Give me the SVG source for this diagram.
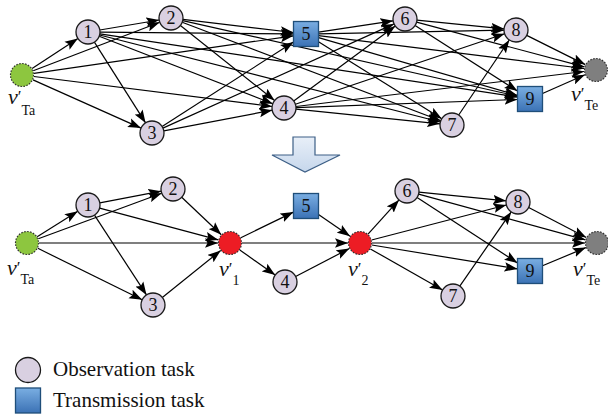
<svg xmlns="http://www.w3.org/2000/svg" width="608" height="417" viewBox="0 0 608 417">
  <style>
    .e { stroke:#000; stroke-width:1.2; fill:none; marker-end:url(#ah); }
    .obs { fill:#d9d0e1; stroke:#1a1a1a; stroke-width:1.3; }
    .trn { fill:url(#blue); stroke:#1f4e79; stroke-width:1.3; }
    .num { font-family:"Liberation Serif",serif; font-size:18px; text-anchor:middle; fill:#111; }
    .vs { fill:#8dc63f; stroke:#333; stroke-width:1.2; stroke-dasharray:1.5 1.5; }
    .vm { fill:#ed1c24; stroke:#333; stroke-width:1.2; stroke-dasharray:1.5 1.5; }
    .ve { fill:#7f7f7f; stroke:#333; stroke-width:1.2; stroke-dasharray:1.5 1.5; }
    .lab { font-family:"Liberation Serif",serif; font-size:22px; font-style:italic; fill:#111; }
    .pr { font-size:17px; font-style:normal; }
    .sub { font-size:14px; font-style:normal; }
    .leg { font-family:"Liberation Serif",serif; font-size:21px; fill:#111; }
  </style>
  <defs>
    <linearGradient id="blue" x1="0" y1="0" x2="0" y2="1">
      <stop offset="0" stop-color="#7aaee2"/>
      <stop offset="1" stop-color="#3b72b5"/>
    </linearGradient>
    <linearGradient id="pale" x1="0" y1="0" x2="0" y2="1">
      <stop offset="0" stop-color="#e8eff8"/>
      <stop offset="1" stop-color="#c6d7ec"/>
    </linearGradient>
    <marker id="ah" markerUnits="userSpaceOnUse" markerWidth="13" markerHeight="10" viewBox="0 0 13 10" refX="13" refY="5" orient="auto">
      <path d="M0,0.3 L13,5 L0,9.7 L2.5,5 z" fill="#000"/>
    </marker>
  </defs>

  <!-- upper network: connectors -->
  <g id="edges-top">
    <line class="e" x1="32.1" y1="68.4" x2="77.9" y2="38.6"/>
    <line class="e" x1="33.2" y1="70.7" x2="159.8" y2="22.3"/>
    <line class="e" x1="33.0" y1="79.9" x2="141.0" y2="128.1"/>
    <line class="e" x1="33.9" y1="76.5" x2="272.1" y2="106.5"/>
    <line class="e" x1="33.9" y1="73.3" x2="293.5" y2="35.8"/>
    <line class="e" x1="99.8" y1="30.0" x2="159.2" y2="20.0"/>
    <line class="e" x1="94.4" y1="42.1" x2="145.6" y2="122.9"/>
    <line class="e" x1="99.2" y1="36.3" x2="272.8" y2="103.7"/>
    <line class="e" x1="100" y1="32.1" x2="293.5" y2="33.9"/>
    <line class="e" x1="99.6" y1="35.0" x2="440.4" y2="122.0"/>
    <line class="e" x1="99.9" y1="33.8" x2="517.5" y2="97.1"/>
    <line class="e" x1="180.4" y1="25.5" x2="274.6" y2="100.5"/>
    <line class="e" x1="182.9" y1="19.4" x2="293.5" y2="32.5"/>
    <line class="e" x1="182.2" y1="22.3" x2="440.8" y2="120.7"/>
    <line class="e" x1="182.7" y1="20.6" x2="517.5" y2="96.2"/>
    <line class="e" x1="163.8" y1="130.8" x2="272.2" y2="110.2"/>
    <line class="e" x1="162.1" y1="126.5" x2="293.5" y2="42.0"/>
    <line class="e" x1="162.9" y1="128.1" x2="394.1" y2="23.9"/>
    <line class="e" x1="318.5" y1="32.1" x2="393.1" y2="20.8"/>
    <line class="e" x1="318.5" y1="41.8" x2="441.8" y2="118.7"/>
    <line class="e" x1="318.5" y1="33.8" x2="504" y2="30.2"/>
    <line class="e" x1="318.5" y1="37.6" x2="517.5" y2="95.4"/>
    <line class="e" x1="318.5" y1="35.6" x2="584.1" y2="68.5"/>
    <line class="e" x1="293.7" y1="100.9" x2="395.3" y2="26.1"/>
    <line class="e" x1="295.9" y1="109.2" x2="440.1" y2="123.8"/>
    <line class="e" x1="295.4" y1="104.2" x2="504.6" y2="33.8"/>
    <line class="e" x1="296" y1="107.6" x2="517.5" y2="99.5"/>
    <line class="e" x1="295.9" y1="106.5" x2="584.1" y2="71.5"/>
    <line class="e" x1="416.9" y1="20.2" x2="504.1" y2="28.8"/>
    <line class="e" x1="415.1" y1="25.5" x2="517.5" y2="91.0"/>
    <line class="e" x1="416.6" y1="22.1" x2="584.4" y2="66.9"/>
    <line class="e" x1="458.7" y1="115.0" x2="509.3" y2="40.0"/>
    <line class="e" x1="526.7" y1="35.4" x2="585.3" y2="64.6"/>
    <line class="e" x1="542.5" y1="93.5" x2="585" y2="74.8"/>
  </g>

  <!-- upper network: nodes -->
  <g id="t-src"><circle class="vs" cx="22" cy="75" r="11.5"/>
    <text class="lab" x="8" y="104">ν<tspan class="pr" dy="-2">′</tspan><tspan class="sub" dy="13">Ta</tspan></text></g>
  <g id="t-1"><circle class="obs" cx="88" cy="32" r="12"/><text class="num" x="88" y="38">1</text></g>
  <g id="t-2"><circle class="obs" cx="171" cy="18" r="12"/><text class="num" x="171" y="24">2</text></g>
  <g id="t-3"><circle class="obs" cx="152" cy="133" r="12"/><text class="num" x="152" y="139">3</text></g>
  <g id="t-4"><circle class="obs" cx="284" cy="108" r="12"/><text class="num" x="284" y="114">4</text></g>
  <g id="t-5"><rect class="trn" x="293.5" y="21.5" width="25" height="25"/><text class="num" x="306" y="40">5</text></g>
  <g id="t-6"><circle class="obs" cx="405" cy="19" r="12"/><text class="num" x="405" y="25">6</text></g>
  <g id="t-7"><circle class="obs" cx="452" cy="125" r="12"/><text class="num" x="452" y="131">7</text></g>
  <g id="t-8"><circle class="obs" cx="516" cy="30" r="12"/><text class="num" x="516" y="36">8</text></g>
  <g id="t-9"><rect class="trn" x="517.5" y="86.5" width="25" height="25"/><text class="num" x="530" y="105">9</text></g>
  <g id="t-sink"><circle class="ve" cx="596" cy="70" r="11.5"/>
    <text class="lab" x="571" y="101">ν<tspan class="pr" dy="-2">′</tspan><tspan class="sub" dy="11">Te</tspan></text></g>

  <!-- transformation arrow -->
  <g id="transform">
    <polygon points="293,137 315,137 315,155 340,155 305,172 272,155 293,155" fill="url(#pale)" stroke="#3d5f86" stroke-width="1.2" stroke-linejoin="miter"/>
  </g>

  <!-- lower network: connectors -->
  <g id="edges-bottom">
    <line class="e" x1="37.2" y1="236.7" x2="77.8" y2="211.3"/>
    <line class="e" x1="38.3" y1="238.8" x2="161.7" y2="193.2"/>
    <line class="e" x1="37.8" y1="248.3" x2="142.2" y2="299.7"/>
    <line class="e" x1="39" y1="243" x2="218" y2="243"/>
    <line class="e" x1="99.8" y1="202.8" x2="161.2" y2="191.2"/>
    <line class="e" x1="94.5" y1="215.1" x2="146.5" y2="294.9"/>
    <line class="e" x1="99.6" y1="208.1" x2="218.4" y2="239.9"/>
    <line class="e" x1="181.7" y1="197.3" x2="221.3" y2="234.7"/>
    <line class="e" x1="162.3" y1="297.5" x2="220.7" y2="250.5"/>
    <line class="e" x1="240.8" y1="237.7" x2="293.5" y2="212.1"/>
    <line class="e" x1="239.8" y1="249.9" x2="275.2" y2="275.1"/>
    <line class="e" x1="242" y1="243" x2="348" y2="243"/>
    <line class="e" x1="318.5" y1="214.6" x2="350.1" y2="236.2"/>
    <line class="e" x1="295.6" y1="276.5" x2="349.4" y2="248.5"/>
    <line class="e" x1="368.0" y1="234.1" x2="399.0" y2="199.9"/>
    <line class="e" x1="370.4" y1="248.9" x2="442.6" y2="290.1"/>
    <line class="e" x1="371.6" y1="240.0" x2="506.4" y2="205.0"/>
    <line class="e" x1="371.8" y1="245.0" x2="517.5" y2="268.9"/>
    <line class="e" x1="372" y1="243" x2="585" y2="243"/>
    <line class="e" x1="418.9" y1="192.2" x2="506.1" y2="200.8"/>
    <line class="e" x1="417.1" y1="197.5" x2="517.5" y2="262.9"/>
    <line class="e" x1="418.6" y1="194.2" x2="585.4" y2="239.8"/>
    <line class="e" x1="459.8" y1="286.1" x2="511.2" y2="211.9"/>
    <line class="e" x1="528.7" y1="207.5" x2="586.3" y2="237.5"/>
    <line class="e" x1="542.5" y1="265.8" x2="585.9" y2="247.6"/>
  </g>

  <!-- lower network: nodes -->
  <g id="b-src"><circle class="vs" cx="27" cy="243" r="11.5"/>
    <text class="lab" x="7" y="275">ν<tspan class="pr" dy="-2">′</tspan><tspan class="sub" dy="11">Ta</tspan></text></g>
  <g id="b-1"><circle class="obs" cx="88" cy="205" r="12"/><text class="num" x="88" y="211">1</text></g>
  <g id="b-2"><circle class="obs" cx="173" cy="189" r="12"/><text class="num" x="173" y="195">2</text></g>
  <g id="b-3"><circle class="obs" cx="153" cy="305" r="12"/><text class="num" x="153" y="311">3</text></g>
  <g id="b-v1"><circle class="vm" cx="230" cy="243" r="11.5"/>
    <text class="lab" x="219" y="276">ν<tspan class="pr" dy="-2">′</tspan><tspan class="sub" dy="11">1</tspan></text></g>
  <g id="b-4"><circle class="obs" cx="285" cy="282" r="12"/><text class="num" x="285" y="288">4</text></g>
  <g id="b-5"><rect class="trn" x="293.5" y="193.5" width="25" height="25"/><text class="num" x="306" y="212">5</text></g>
  <g id="b-v2"><circle class="vm" cx="360" cy="243" r="11.5"/>
    <text class="lab" x="348" y="276">ν<tspan class="pr" dy="-2">′</tspan><tspan class="sub" dy="11">2</tspan></text></g>
  <g id="b-6"><circle class="obs" cx="407" cy="191" r="12"/><text class="num" x="407" y="197">6</text></g>
  <g id="b-7"><circle class="obs" cx="453" cy="296" r="12"/><text class="num" x="453" y="302">7</text></g>
  <g id="b-8"><circle class="obs" cx="518" cy="202" r="12"/><text class="num" x="518" y="208">8</text></g>
  <g id="b-9"><rect class="trn" x="517.5" y="258.5" width="25" height="25"/><text class="num" x="530" y="277">9</text></g>
  <g id="b-sink"><circle class="ve" cx="597" cy="243" r="11.5"/>
    <text class="lab" x="573" y="276">ν<tspan class="pr" dy="-2">′</tspan><tspan class="sub" dy="11">Te</tspan></text></g>

  <!-- legend -->
  <g id="legend">
    <circle class="obs" cx="28" cy="370" r="12.5"/>
    <text class="leg" x="53" y="376">Observation task</text>
    <rect class="trn" x="15.5" y="388" width="25" height="25"/>
    <text class="leg" x="53" y="407">Transmission task</text>
  </g>
</svg>
